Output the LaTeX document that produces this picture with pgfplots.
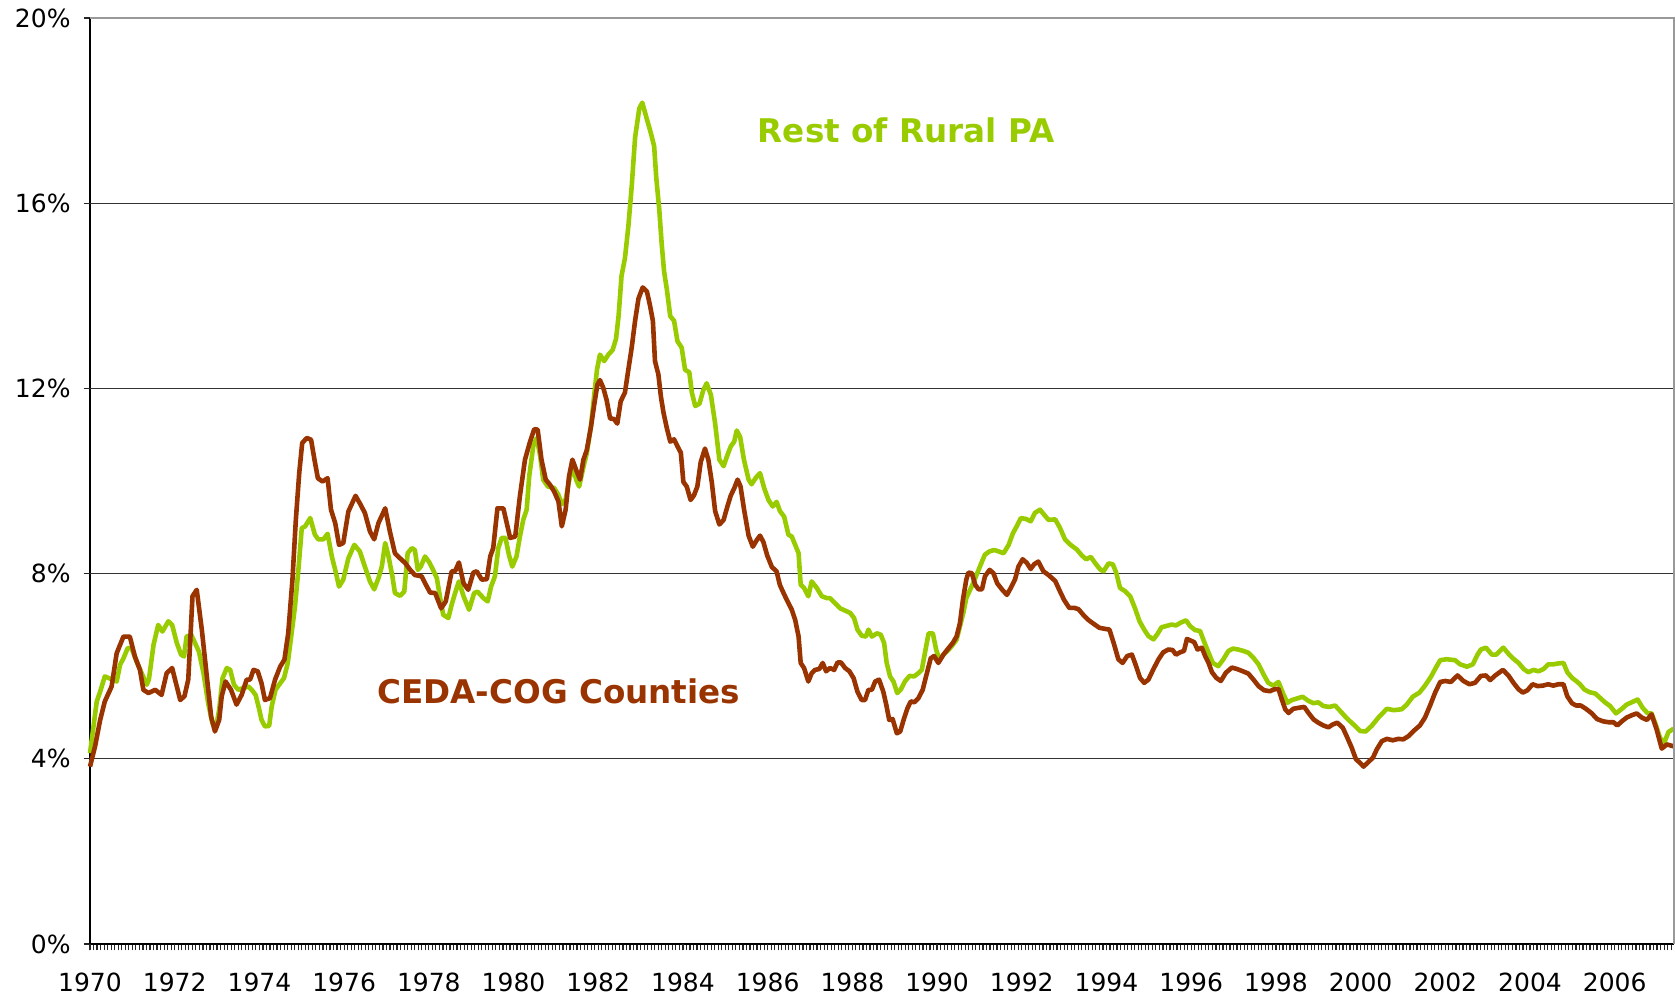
\documentclass[border=0pt]{standalone}
\usepackage{pgfplots}
\pgfplotsset{compat=1.18}
\usepackage{fontspec}
\setmainfont{DejaVu Sans}
\definecolor{ruralgreen}{HTML}{99CC00}
\definecolor{cedabrown}{HTML}{993300}
\begin{document}
\begin{tikzpicture}
\useasboundingbox (-45pt,-27.5pt) rectangle (792.5pt,472pt);
\begin{axis}[
 at={(0,0)}, anchor=south west,
 scale only axis, width=792pt, height=463pt,
 xmin=0, xmax=448.8, ymin=0, ymax=20,
 axis x line*=bottom, axis y line*=left,
 axis line style={-, black, line width=0.9pt},
 xtick={0,1,...,448},
 xticklabels={},
 extra x ticks={0,24,...,432},
 extra x tick labels={1970,1972,1974,1976,1978,1980,1982,1984,1986,1988,1990,1992,1994,1996,1998,2000,2002,2004,2006},
 ytick={0,4,...,20},
 yticklabels={0\%,4\%,8\%,12\%,16\%,20\%},
 extra y ticks={4,8,12,16},
 extra y tick labels={},
 extra y tick style={grid=major, major grid style={black!80, line width=0.6pt}},
 tick align=outside,
 major tick length=3.2pt,
 every tick/.style={black!85, line width=0.6pt},
 xticklabel style={font=\fontsize{12.5}{14}\selectfont, yshift=-7.5pt},
 yticklabel style={font=\fontsize{12.5}{14}\selectfont, xshift=-3pt},
 clip=false,
]
\addplot[ruralgreen, line width=2.3pt, line join=round, x filter/.expression={12*(x-1970)}] coordinates {
(1970.00,4.12)(1970.16,5.24)(1970.24,5.45)(1970.35,5.78)(1970.45,5.74)(1970.53,5.71)(1970.63,5.67)(1970.71,6.03)(1970.79,6.17)(1970.89,6.39)(1970.98,6.39)
(1971.10,6.10)(1971.22,5.85)(1971.34,5.60)(1971.39,5.71)(1971.50,6.46)(1971.61,6.89)(1971.71,6.75)(1971.85,6.97)(1971.94,6.89)
(1972.05,6.50)(1972.15,6.25)(1972.22,6.21)(1972.28,6.64)(1972.39,6.68)(1972.48,6.50)(1972.57,6.32)(1972.68,5.85)(1972.79,5.20)(1972.89,4.77)(1972.97,4.66)
(1973.05,5.06)(1973.13,5.74)(1973.23,5.96)(1973.31,5.92)(1973.40,5.60)(1973.50,5.49)(1973.62,5.53)(1973.74,5.56)(1973.82,5.49)(1973.91,5.38)(1973.99,5.09)
(1974.05,4.84)(1974.13,4.70)(1974.23,4.71)(1974.29,5.13)(1974.38,5.49)(1974.49,5.63)(1974.58,5.74)(1974.67,6.07)(1974.76,6.71)(1974.84,7.29)(1974.92,8.08)
(1975.00,8.98)(1975.08,9.02)(1975.20,9.20)(1975.31,8.84)(1975.39,8.74)(1975.51,8.74)(1975.61,8.86)(1975.71,8.37)(1975.79,8.08)(1975.88,7.72)(1975.98,7.87)
(1976.10,8.33)(1976.24,8.62)(1976.37,8.48)(1976.49,8.15)(1976.61,7.83)(1976.71,7.66)(1976.81,7.90)(1976.89,8.15)(1976.97,8.66)
(1977.04,8.41)(1977.14,7.94)(1977.20,7.58)(1977.32,7.52)(1977.42,7.61)(1977.50,8.44)(1977.60,8.55)(1977.67,8.51)(1977.74,8.08)(1977.81,8.15)(1977.91,8.37)
(1978.00,8.26)(1978.08,8.12)(1978.19,7.90)(1978.26,7.51)(1978.34,7.11)(1978.46,7.04)(1978.54,7.33)(1978.62,7.58)(1978.71,7.83)(1978.82,7.51)(1978.95,7.22)
(1979.07,7.58)(1979.15,7.61)(1979.29,7.47)(1979.39,7.40)(1979.47,7.72)(1979.56,7.94)(1979.64,8.55)(1979.72,8.77)(1979.81,8.77)(1979.89,8.41)(1979.97,8.15)
(1980.07,8.37)(1980.15,8.80)(1980.23,9.16)(1980.31,9.38)(1980.37,10.10)(1980.47,10.78)(1980.55,10.93)(1980.63,10.53)(1980.70,10.03)(1980.81,9.88)(1980.96,9.85)
(1981.06,9.70)(1981.14,9.50)(1981.23,9.60)(1981.31,10.00)(1981.39,10.30)(1981.49,10.00)(1981.55,9.88)(1981.65,10.30)(1981.73,10.60)(1981.83,11.20)(1981.91,11.90)(1981.97,12.40)
(1982.04,12.73)(1982.14,12.59)(1982.24,12.73)(1982.34,12.83)(1982.42,13.07)(1982.48,13.56)(1982.55,14.43)(1982.63,14.81)(1982.71,15.49)(1982.79,16.36)(1982.87,17.42)(1982.97,18.05)
(1983.04,18.17)(1983.15,17.81)(1983.24,17.52)(1983.32,17.23)(1983.37,16.55)(1983.44,15.87)(1983.50,15.10)(1983.555,14.52)(1983.62,14.14)(1983.70,13.56)(1983.79,13.46)(1983.87,13.02)(1983.97,12.88)
(1984.05,12.40)(1984.15,12.35)(1984.21,11.91)(1984.29,11.62)(1984.39,11.67)(1984.48,11.96)(1984.56,12.11)(1984.66,11.86)(1984.76,11.24)(1984.86,10.46)(1984.96,10.32)
(1985.05,10.56)(1985.13,10.75)(1985.21,10.85)(1985.27,11.09)(1985.35,10.95)(1985.44,10.46)(1985.55,10.03)(1985.62,9.93)(1985.73,10.08)(1985.82,10.17)(1985.92,9.84)
(1986.02,9.59)(1986.12,9.45)(1986.21,9.55)(1986.29,9.35)(1986.39,9.23)(1986.49,8.84)(1986.57,8.80)(1986.65,8.62)(1986.73,8.44)(1986.78,7.76)(1986.86,7.69)(1986.96,7.51)
(1987.04,7.83)(1987.16,7.69)(1987.28,7.51)(1987.40,7.47)(1987.47,7.47)(1987.59,7.36)(1987.71,7.25)(1987.83,7.20)(1987.95,7.15)
(1988.04,7.04)(1988.12,6.79)(1988.22,6.66)(1988.32,6.64)(1988.38,6.79)(1988.46,6.64)(1988.58,6.71)(1988.67,6.68)(1988.75,6.50)(1988.81,6.07)(1988.89,5.78)(1988.97,5.67)
(1989.06,5.42)(1989.14,5.49)(1989.24,5.67)(1989.35,5.79)(1989.46,5.78)(1989.56,5.85)(1989.64,5.92)(1989.72,6.32)(1989.80,6.71)(1989.90,6.71)(1989.98,6.35)
(1990.06,6.14)(1990.15,6.25)(1990.27,6.35)(1990.37,6.46)(1990.46,6.57)(1990.54,6.86)(1990.62,7.15)(1990.69,7.47)(1990.78,7.65)(1990.87,7.83)(1990.98,8.08)
(1991.06,8.26)(1991.13,8.41)(1991.24,8.48)(1991.35,8.51)(1991.45,8.48)(1991.57,8.44)(1991.69,8.62)(1991.79,8.87)(1991.88,9.02)(1991.98,9.20)
(1992.10,9.18)(1992.21,9.13)(1992.31,9.31)(1992.43,9.38)(1992.53,9.27)(1992.63,9.16)(1992.79,9.17)(1992.90,8.99)
(1993.02,8.74)(1993.14,8.63)(1993.30,8.52)(1993.42,8.39)(1993.52,8.31)(1993.63,8.36)(1993.73,8.23)(1993.85,8.09)(1993.93,8.05)
(1994.05,8.22)(1994.15,8.20)(1994.23,8.02)(1994.32,7.69)(1994.44,7.62)(1994.56,7.51)(1994.67,7.26)(1994.78,6.97)(1994.89,6.79)(1994.99,6.65)
(1995.11,6.58)(1995.20,6.69)(1995.30,6.84)(1995.42,6.87)(1995.54,6.90)(1995.64,6.88)(1995.75,6.94)(1995.88,6.99)(1995.97,6.87)
(1996.09,6.78)(1996.21,6.76)(1996.30,6.54)(1996.41,6.29)(1996.51,6.07)(1996.64,6.00)(1996.76,6.15)(1996.88,6.33)(1996.99,6.38)
(1997.11,6.36)(1997.23,6.33)(1997.35,6.29)(1997.47,6.18)(1997.59,6.04)(1997.71,5.82)(1997.82,5.64)(1997.94,5.58)
(1998.06,5.66)(1998.18,5.39)(1998.27,5.21)(1998.38,5.27)(1998.49,5.30)(1998.63,5.34)(1998.77,5.25)(1998.89,5.20)
(1999.00,5.22)(1999.12,5.14)(1999.26,5.12)(1999.40,5.15)(1999.52,5.03)(1999.63,4.92)(1999.75,4.81)(1999.87,4.71)(1999.99,4.60)
(2000.12,4.59)(2000.26,4.71)(2000.42,4.89)(2000.62,5.08)(2000.78,5.05)(2000.97,5.07)
(2001.09,5.17)(2001.23,5.34)(2001.39,5.43)(2001.52,5.58)(2001.66,5.77)(2001.76,5.94)(2001.88,6.13)
(2002.03,6.15)(2002.23,6.13)(2002.35,6.04)(2002.51,5.99)(2002.65,6.04)(2002.76,6.25)(2002.84,6.36)(2002.96,6.40)
(2003.10,6.25)(2003.20,6.25)(2003.29,6.33)(2003.37,6.40)(2003.49,6.27)(2003.61,6.16)(2003.73,6.07)(2003.85,5.94)(2003.96,5.87)
(2004.08,5.92)(2004.20,5.89)(2004.32,5.94)(2004.43,6.04)(2004.55,6.04)(2004.67,6.06)(2004.79,6.07)(2004.88,5.87)(2004.99,5.75)
(2005.09,5.68)(2005.18,5.61)(2005.28,5.50)(2005.40,5.44)(2005.54,5.41)(2005.65,5.32)(2005.77,5.22)(2005.89,5.14)
(2006.03,4.98)(2006.17,5.08)(2006.28,5.17)(2006.40,5.22)(2006.54,5.28)(2006.66,5.10)(2006.77,4.99)(2006.87,4.98)(2006.98,4.71)
(2007.07,4.45)(2007.17,4.35)(2007.27,4.58)(2007.39,4.65)
};
\addplot[cedabrown, line width=2.3pt, line join=round, x filter/.expression={12*(x-1970)}] coordinates {
(1970.00,3.83)(1970.12,4.27)(1970.24,4.84)(1970.35,5.24)(1970.51,5.56)(1970.63,6.28)(1970.79,6.64)(1970.94,6.64)
(1971.06,6.21)(1971.18,5.92)(1971.26,5.49)(1971.38,5.42)(1971.54,5.49)(1971.69,5.38)(1971.81,5.85)(1971.94,5.96)
(1972.13,5.27)(1972.23,5.35)(1972.32,5.71)(1972.42,7.51)(1972.52,7.65)(1972.64,6.79)(1972.75,5.85)(1972.86,4.91)(1972.95,4.59)
(1973.05,4.84)(1973.11,5.35)(1973.20,5.67)(1973.33,5.49)(1973.46,5.17)(1973.58,5.38)(1973.70,5.71)(1973.78,5.71)(1973.86,5.92)(1973.96,5.89)
(1974.05,5.63)(1974.13,5.27)(1974.25,5.31)(1974.37,5.71)(1974.49,5.99)(1974.59,6.14)(1974.68,6.71)(1974.78,7.87)(1974.86,9.16)(1974.94,10.17)
(1975.01,10.82)(1975.12,10.93)(1975.22,10.89)(1975.30,10.46)(1975.38,10.06)(1975.49,9.99)(1975.61,10.06)(1975.69,9.38)(1975.79,9.09)(1975.88,8.62)(1975.98,8.66)
(1976.10,9.34)(1976.27,9.68)(1976.37,9.52)(1976.49,9.31)(1976.61,8.91)(1976.71,8.74)(1976.81,9.09)(1976.97,9.41)
(1977.08,8.91)(1977.20,8.44)(1977.32,8.33)(1977.44,8.23)(1977.56,8.08)(1977.67,7.97)(1977.83,7.94)(1977.93,7.76)
(1978.03,7.59)(1978.15,7.58)(1978.29,7.25)(1978.40,7.40)(1978.54,8.05)(1978.62,8.05)(1978.71,8.24)(1978.82,7.79)(1978.93,7.65)
(1979.05,8.02)(1979.13,8.05)(1979.25,7.87)(1979.37,7.88)(1979.45,8.37)(1979.52,8.55)(1979.62,9.41)(1979.76,9.41)(1979.92,8.77)
(1980.04,8.80)(1980.15,9.67)(1980.27,10.46)(1980.39,10.85)(1980.49,11.12)(1980.57,11.11)(1980.66,10.46)(1980.76,10.03)(1980.86,9.92)(1980.96,9.77)
(1981.06,9.56)(1981.14,9.02)(1981.23,9.38)(1981.31,10.10)(1981.39,10.46)(1981.49,10.21)(1981.57,10.03)(1981.65,10.46)(1981.73,10.67)(1981.83,11.18)(1981.91,11.68)(1981.98,12.08)
(1982.04,12.18)(1982.12,12.01)(1982.20,11.74)(1982.28,11.35)(1982.37,11.34)(1982.45,11.24)(1982.53,11.72)(1982.63,11.91)(1982.71,12.40)(1982.79,12.88)(1982.87,13.46)(1982.95,13.94)
(1983.05,14.18)(1983.15,14.09)(1983.22,13.80)(1983.29,13.46)(1983.34,12.59)(1983.42,12.30)(1983.48,11.82)(1983.54,11.48)(1983.62,11.14)(1983.70,10.85)(1983.79,10.90)(1983.87,10.75)(1983.95,10.61)
(1984.01,9.98)(1984.09,9.88)(1984.18,9.59)(1984.26,9.69)(1984.34,9.88)(1984.42,10.41)(1984.52,10.70)(1984.60,10.46)(1984.68,9.98)(1984.76,9.35)(1984.86,9.06)(1984.96,9.16)
(1985.05,9.45)(1985.13,9.69)(1985.21,9.84)(1985.29,10.03)(1985.36,9.88)(1985.44,9.40)(1985.55,8.82)(1985.65,8.58)(1985.74,8.72)(1985.82,8.82)(1985.90,8.68)(1985.99,8.39)
(1986.10,8.14)(1986.21,8.05)(1986.29,7.75)(1986.39,7.55)(1986.47,7.40)(1986.57,7.22)(1986.65,7.00)(1986.73,6.64)(1986.78,6.07)(1986.86,5.96)(1986.96,5.67)
(1987.04,5.85)(1987.12,5.92)(1987.22,5.94)(1987.30,6.07)(1987.38,5.89)(1987.47,5.96)(1987.57,5.92)(1987.65,6.08)(1987.73,6.08)(1987.83,5.96)(1987.93,5.89)
(1988.03,5.74)(1988.12,5.45)(1988.22,5.27)(1988.30,5.27)(1988.38,5.49)(1988.46,5.49)(1988.54,5.67)(1988.63,5.71)(1988.73,5.45)(1988.80,5.17)(1988.87,4.84)(1988.95,4.86)
(1989.05,4.55)(1989.13,4.59)(1989.21,4.84)(1989.30,5.09)(1989.38,5.24)(1989.46,5.22)(1989.56,5.31)(1989.66,5.49)(1989.76,5.85)(1989.85,6.17)(1989.93,6.22)
(1990.03,6.07)(1990.15,6.25)(1990.27,6.39)(1990.37,6.50)(1990.46,6.64)(1990.54,6.93)(1990.61,7.43)(1990.69,7.87)(1990.74,8.02)(1990.82,8.01)(1990.90,7.76)(1990.98,7.66)
(1991.06,7.66)(1991.13,7.94)(1991.24,8.08)(1991.33,8.01)(1991.42,7.79)(1991.53,7.66)(1991.65,7.54)(1991.74,7.69)(1991.84,7.87)(1991.92,8.15)
(1992.02,8.31)(1992.12,8.23)(1992.21,8.10)(1992.29,8.20)(1992.39,8.26)(1992.51,8.05)(1992.63,7.97)(1992.79,7.84)(1992.90,7.62)
(1993.00,7.43)(1993.12,7.26)(1993.24,7.26)(1993.34,7.23)(1993.46,7.10)(1993.57,7.00)(1993.69,6.92)(1993.83,6.83)(1993.94,6.81)
(1994.07,6.79)(1994.18,6.47)(1994.28,6.15)(1994.38,6.07)(1994.49,6.22)(1994.60,6.25)(1994.70,6.00)(1994.79,5.75)(1994.89,5.64)(1994.99,5.71)
(1995.11,5.94)(1995.23,6.15)(1995.34,6.30)(1995.46,6.36)(1995.56,6.35)(1995.64,6.25)(1995.74,6.30)(1995.83,6.33)(1995.90,6.59)(1995.97,6.56)
(1996.07,6.52)(1996.15,6.36)(1996.25,6.40)(1996.33,6.22)(1996.41,6.07)(1996.49,5.87)(1996.59,5.75)(1996.70,5.68)(1996.82,5.86)(1996.96,5.97)
(1997.08,5.94)(1997.22,5.89)(1997.35,5.84)(1997.47,5.71)(1997.59,5.57)(1997.72,5.48)(1997.86,5.46)(1997.96,5.50)
(1998.06,5.51)(1998.14,5.28)(1998.22,5.07)(1998.30,4.99)(1998.41,5.08)(1998.53,5.10)(1998.67,5.12)(1998.77,4.99)(1998.89,4.85)
(1999.00,4.78)(1999.12,4.72)(1999.24,4.68)(1999.34,4.74)(1999.45,4.78)(1999.58,4.67)(1999.67,4.49)(1999.79,4.24)(1999.89,3.99)(1999.99,3.91)
(2000.07,3.83)(2000.18,3.93)(2000.29,4.02)(2000.38,4.20)(2000.50,4.38)(2000.62,4.43)(2000.76,4.40)(2000.89,4.43)
(2001.01,4.42)(2001.13,4.49)(2001.25,4.60)(2001.40,4.72)(2001.52,4.89)(2001.64,5.15)(2001.76,5.43)(2001.88,5.66)
(2002.00,5.68)(2002.13,5.66)(2002.29,5.80)(2002.43,5.68)(2002.57,5.61)(2002.70,5.64)(2002.84,5.79)(2002.96,5.80)
(2003.06,5.70)(2003.18,5.80)(2003.36,5.92)(2003.49,5.80)(2003.61,5.64)(2003.73,5.50)(2003.83,5.43)(2003.94,5.48)
(2004.06,5.61)(2004.18,5.57)(2004.30,5.58)(2004.43,5.61)(2004.55,5.58)(2004.67,5.61)(2004.79,5.61)(2004.88,5.35)(2004.99,5.20)
(2005.09,5.15)(2005.20,5.15)(2005.32,5.08)(2005.46,4.98)(2005.58,4.86)(2005.72,4.81)(2005.85,4.79)(2005.97,4.79)
(2006.06,4.72)(2006.17,4.81)(2006.28,4.89)(2006.40,4.94)(2006.52,4.98)(2006.64,4.89)(2006.76,4.84)(2006.87,4.96)(2006.99,4.63)
(2007.11,4.22)(2007.23,4.31)(2007.39,4.27)
};
\draw[gray!80, line width=0.9pt] (rel axis cs:0,1) -- (rel axis cs:1,1) -- (rel axis cs:1,0);
\node[text=ruralgreen, font=\fontsize{16.3}{19}\selectfont\bfseries] at (axis cs:231.24,17.58) {Rest of Rural PA};
\node[text=cedabrown, font=\fontsize{16.3}{19}\selectfont\bfseries] at (axis cs:132.84,5.46) {CEDA-COG Counties};
\end{axis}
\end{tikzpicture}
\end{document}
